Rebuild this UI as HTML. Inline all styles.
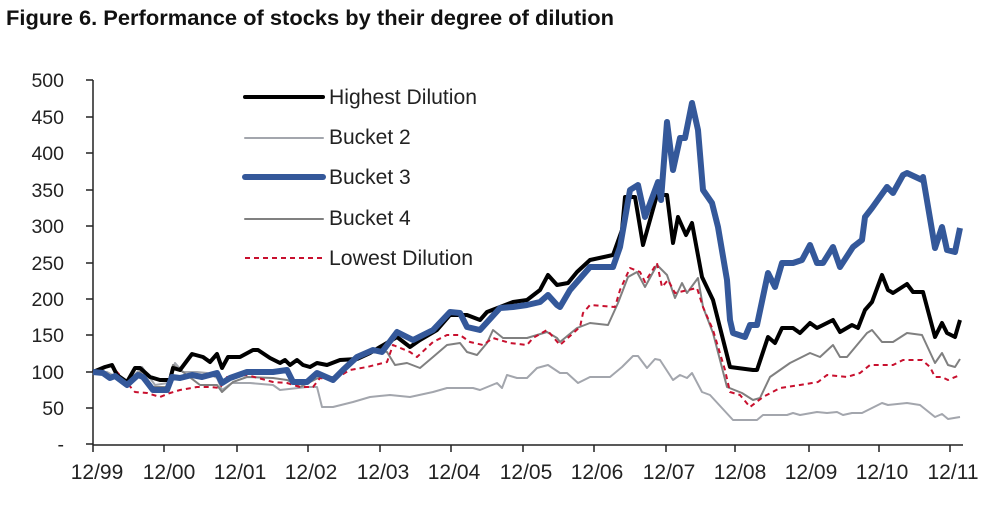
<!DOCTYPE html>
<html><head><meta charset="utf-8"><style>
html,body{margin:0;padding:0;background:#fff;}
svg{display:block;font-family:"Liberation Sans",Arial,sans-serif;}
</style></head><body>
<svg width="1000" height="506" viewBox="0 0 1000 506">
<text x="6" y="25" font-size="21" font-weight="bold" fill="#111" textLength="608" lengthAdjust="spacingAndGlyphs">Figure 6. Performance of stocks by their degree of dilution</text>
<g stroke="#222" stroke-width="1.5" fill="none">
<line x1="93" y1="80" x2="93" y2="445"/>
<line x1="93" y1="445" x2="963" y2="445"/>
<path d="M86 80H93M86 117H93M86 153H93M86 190H93M86 226H93M86 263H93M86 299H93M86 335H93M86 372H93M86 408H93M86 444H93"/>
<path d="M93 445V452M164 445V452M237 445V452M308 445V452M380 445V452M451 445V452M523 445V452M594 445V452M666 445V452M735 445V452M809 445V452M879 445V452M950 445V452"/>
</g>
<g font-size="19.5" fill="#222" text-anchor="end">
<text x="64" y="87">500</text><text x="64" y="124">450</text><text x="64" y="160">400</text>
<text x="64" y="197">350</text><text x="64" y="233">300</text><text x="64" y="270">250</text>
<text x="64" y="306">200</text><text x="64" y="342">150</text><text x="64" y="379">100</text>
<text x="64" y="415">50</text><text x="64" y="451">-</text>
</g>
<g font-size="21" fill="#222" text-anchor="middle">
<text x="97" y="479">12/99</text><text x="169" y="479">12/00</text><text x="240" y="479">12/01</text>
<text x="311" y="479">12/02</text><text x="383" y="479">12/03</text><text x="454" y="479">12/04</text>
<text x="526" y="479">12/05</text><text x="597" y="479">12/06</text><text x="669" y="479">12/07</text>
<text x="740" y="479">12/08</text><text x="811" y="479">12/09</text><text x="882" y="479">12/10</text>
<text x="953" y="479">12/11</text>
</g>
<g fill="none" stroke-linejoin="round">
<polyline stroke="#a3a6ad" stroke-width="2" points="93,372 107,372 127,383 142,367 155,385 168,383 175,363 183,372 197,372 207,373 217,378 222,390 232,383 250,383 273,385 280,390 307,387 317,387 322,407 333,407 353,402 370,397 390,395 410,397 433,392 447,388 473,388 480,390 497,383 502,388 507,375 517,378 527,378 537,368 548,365 560,373 567,373 578,383 590,377 610,377 622,367 633,356 638,356 647,368 655,359 660,360 673,380 680,375 687,378 692,373 702,392 710,395 733,420 757,420 763,415 787,415 793,413 800,415 817,412 827,413 837,412 843,415 852,413 862,413 872,408 882,403 888,405 907,403 920,405 935,417 942,414 948,419 960,417"/>
<polyline stroke="#808080" stroke-width="2" points="93,372 117,377 127,387 140,372 153,387 168,387 173,365 183,372 200,385 217,385 222,392 233,382 247,377 273,378 287,380 297,385 300,387 320,377 337,377 360,357 377,350 387,352 395,365 407,363 420,368 433,357 447,345 460,343 467,352 477,355 487,343 493,330 503,338 513,338 527,338 547,332 557,338 560,342 577,328 590,323 608,325 618,303 628,277 637,272 645,287 657,265 667,275 675,298 682,283 687,293 698,278 703,307 713,333 727,387 742,393 753,400 760,398 770,377 790,363 810,353 820,357 833,345 840,357 847,357 867,333 872,330 882,342 893,342 907,333 922,335 935,363 942,353 948,365 955,367 960,359"/>
<polyline stroke="#c8102e" stroke-width="2" stroke-dasharray="5,4" points="93,372 110,365 117,372 135,392 147,393 160,397 170,393 180,390 197,387 210,387 220,388 227,377 247,375 273,382 287,383 300,387 313,387 320,378 333,380 350,370 367,367 387,362 393,345 410,352 417,357 433,342 447,335 460,335 470,342 483,345 493,338 510,343 527,345 533,338 547,330 560,345 580,327 583,313 590,305 615,307 620,290 630,268 640,272 645,282 657,263 662,287 668,280 675,293 688,290 697,288 703,307 713,330 725,370 730,392 740,395 750,407 763,397 780,388 800,385 818,382 827,375 847,377 860,373 870,365 893,365 903,360 922,360 930,367 935,377 942,377 948,380 960,375"/>
<polyline stroke="#000" stroke-width="4" points="93,372 105,367 112,365 117,375 127,382 135,368 140,368 150,377 160,380 170,380 173,368 180,370 192,354 203,357 210,362 217,354 222,368 228,357 240,357 253,350 258,350 270,358 280,363 285,360 290,365 297,360 303,365 310,367 317,363 327,365 340,360 357,359 370,353 380,347 397,337 410,347 420,340 437,330 450,315 467,315 480,320 487,312 500,307 513,302 527,300 540,290 548,275 557,285 568,283 577,272 590,260 613,255 622,230 625,197 635,197 643,245 657,195 667,195 673,243 678,217 686,235 692,223 702,277 713,300 730,367 753,370 757,370 768,337 775,343 782,328 793,328 800,333 810,323 817,328 833,320 840,332 852,325 858,328 865,310 872,302 882,275 888,290 893,293 907,284 913,292 923,292 935,337 942,323 947,333 955,337 960,320"/>
<polyline stroke="#34589a" stroke-width="6" points="93,372 103,373 110,378 115,376 127,385 138,375 143,377 153,390 167,390 172,377 180,378 192,375 202,377 217,373 222,383 230,378 247,372 273,372 287,370 293,382 307,382 317,373 333,380 343,370 357,357 373,350 382,352 397,332 413,340 433,330 450,312 460,313 467,327 480,330 500,308 513,307 527,305 540,302 548,295 557,305 560,307 570,290 590,267 613,267 620,247 630,190 638,185 645,217 658,182 661,200 667,122 673,170 680,138 685,138 692,103 698,130 703,190 712,203 718,227 727,280 730,320 733,333 745,337 750,325 757,325 768,273 775,287 782,263 793,263 802,260 810,245 817,263 823,263 833,247 840,267 853,247 862,240 865,217 872,208 887,187 893,193 903,175 907,173 922,180 923,177 935,248 942,227 947,250 955,252 960,228"/>
</g>
<g fill="none" stroke-linecap="round">
<line x1="245" y1="97" x2="323" y2="97" stroke="#000" stroke-width="4"/>
<line x1="245" y1="138" x2="323" y2="138" stroke="#a3a6ad" stroke-width="2"/>
<line x1="245" y1="177" x2="323" y2="177" stroke="#34589a" stroke-width="6"/>
<line x1="245" y1="219" x2="323" y2="219" stroke="#808080" stroke-width="2"/>
<line x1="245" y1="258" x2="323" y2="258" stroke="#c8102e" stroke-width="2" stroke-dasharray="5,4" stroke-linecap="butt"/>
</g>
<g font-size="21" fill="#222">
<text x="329" y="104" textLength="148" lengthAdjust="spacingAndGlyphs">Highest Dilution</text>
<text x="329" y="144">Bucket 2</text>
<text x="329" y="184">Bucket 3</text>
<text x="329" y="225">Bucket 4</text>
<text x="329" y="265" textLength="144" lengthAdjust="spacingAndGlyphs">Lowest Dilution</text>
</g>
</svg>
</body></html>
